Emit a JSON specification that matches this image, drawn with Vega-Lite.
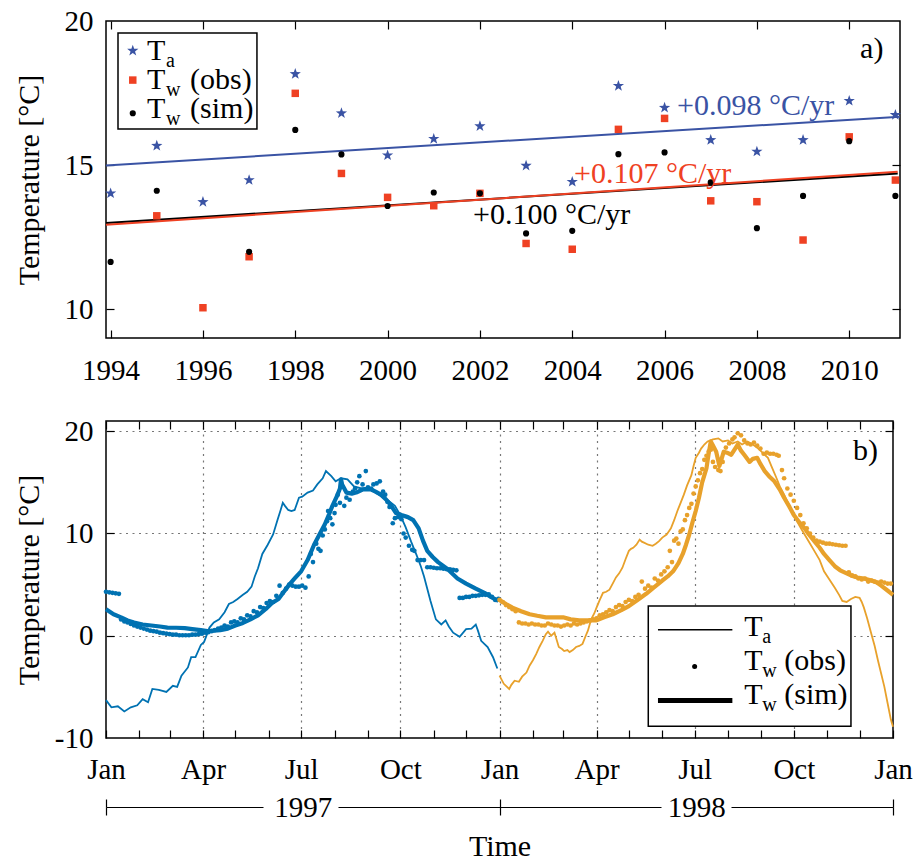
{
"$schema":"https://vega.github.io/schema/vega-lite/v6.json",
"background":"white",
"padding":{"left":13,"top":6,"right":5,"bottom":5},
"bounds":"flush",
"spacing":83,
"config":{
 "font":"Liberation Serif",
 "view":{"stroke":"black","strokeWidth":1.5},
 "axis":{"labelFont":"Liberation Serif","labelFontSize":29,"labelColor":"black","titleFont":"Liberation Serif","titleFontSize":30,"titleFontWeight":"normal","titleColor":"black","domain":false,"grid":false,"ticks":false,"tickColor":"black","tickWidth":1.2,"labelFlush":false,"labelOverlap":false},
 "text":{"font":"Liberation Serif","color":"black"}
},
"datasets":{
 "annual":[
  {"s":"Ta","yr":1994,"v":14.02},{"s":"Ta","yr":1995,"v":15.67},{"s":"Ta","yr":1996,"v":13.72},{"s":"Ta","yr":1997,"v":14.48},{"s":"Ta","yr":1998,"v":18.16},{"s":"Ta","yr":1999,"v":16.8},{"s":"Ta","yr":2000,"v":15.34},{"s":"Ta","yr":2001,"v":15.91},{"s":"Ta","yr":2002,"v":16.35},{"s":"Ta","yr":2003,"v":14.98},{"s":"Ta","yr":2004,"v":14.42},{"s":"Ta","yr":2005,"v":17.75},{"s":"Ta","yr":2006,"v":16.99},{"s":"Ta","yr":2007,"v":15.87},{"s":"Ta","yr":2008,"v":15.47},{"s":"Ta","yr":2009,"v":15.87},{"s":"Ta","yr":2010,"v":17.23},{"s":"Ta","yr":2011,"v":16.74},
  {"s":"obs","yr":1995,"v":13.24},{"s":"obs","yr":1996,"v":10.05},{"s":"obs","yr":1997,"v":11.82},{"s":"obs","yr":1998,"v":17.49},{"s":"obs","yr":1999,"v":14.71},{"s":"obs","yr":2000,"v":13.88},{"s":"obs","yr":2001,"v":13.59},{"s":"obs","yr":2002,"v":14.02},{"s":"obs","yr":2003,"v":12.28},{"s":"obs","yr":2004,"v":12.08},{"s":"obs","yr":2005,"v":16.24},{"s":"obs","yr":2006,"v":16.62},{"s":"obs","yr":2007,"v":13.76},{"s":"obs","yr":2008,"v":13.73},{"s":"obs","yr":2009,"v":12.4},{"s":"obs","yr":2010,"v":15.98},{"s":"obs","yr":2011,"v":14.48},
  {"s":"sim","yr":1994,"v":11.64},{"s":"sim","yr":1995,"v":14.11},{"s":"sim","yr":1997,"v":11.99},{"s":"sim","yr":1998,"v":16.22},{"s":"sim","yr":1999,"v":15.37},{"s":"sim","yr":2000,"v":13.58},{"s":"sim","yr":2001,"v":14.05},{"s":"sim","yr":2002,"v":14.02},{"s":"sim","yr":2003,"v":12.63},{"s":"sim","yr":2004,"v":12.72},{"s":"sim","yr":2005,"v":15.38},{"s":"sim","yr":2006,"v":15.44},{"s":"sim","yr":2007,"v":14.4},{"s":"sim","yr":2008,"v":12.81},{"s":"sim","yr":2009,"v":13.93},{"s":"sim","yr":2010,"v":15.83},{"s":"sim","yr":2011,"v":13.93}
 ],
 "trend":[
  {"s":"Ta","yr":1993.9,"v":14.99},{"s":"Ta","yr":2011.1,"v":16.68},
  {"s":"sim","yr":1993.9,"v":12.99},{"s":"sim","yr":2011.05,"v":14.71},
  {"s":"obs","yr":1993.9,"v":12.93},{"s":"obs","yr":2011.05,"v":14.77}
 ],
 "daily":[
  {"g":"1997","s":"Ta","d":0,"v":-6.3},{"g":"1997","s":"Ta","d":5,"v":-7.0},{"g":"1997","s":"Ta","d":11,"v":-6.9},{"g":"1997","s":"Ta","d":17,"v":-7.4},{"g":"1997","s":"Ta","d":23,"v":-7.0},{"g":"1997","s":"Ta","d":29,"v":-6.8},{"g":"1997","s":"Ta","d":34,"v":-6.2},{"g":"1997","s":"Ta","d":39,"v":-6.5},{"g":"1997","s":"Ta","d":43,"v":-5.2},{"g":"1997","s":"Ta","d":49,"v":-5.3},{"g":"1997","s":"Ta","d":56,"v":-5.5},{"g":"1997","s":"Ta","d":62,"v":-4.9},{"g":"1997","s":"Ta","d":66,"v":-5.0},{"g":"1997","s":"Ta","d":70,"v":-3.9},{"g":"1997","s":"Ta","d":76,"v":-3.1},{"g":"1997","s":"Ta","d":79,"v":-2.1},{"g":"1997","s":"Ta","d":83,"v":-2.1},{"g":"1997","s":"Ta","d":88,"v":-0.9},{"g":"1997","s":"Ta","d":91,"v":-0.6},{"g":"1997","s":"Ta","d":96,"v":0.8},{"g":"1997","s":"Ta","d":100,"v":1.3},{"g":"1997","s":"Ta","d":105,"v":1.6},{"g":"1997","s":"Ta","d":110,"v":2.3},{"g":"1997","s":"Ta","d":114,"v":3.1},{"g":"1997","s":"Ta","d":118,"v":3.3},{"g":"1997","s":"Ta","d":122,"v":3.6},{"g":"1997","s":"Ta","d":127,"v":4.0},{"g":"1997","s":"Ta","d":131,"v":4.3},{"g":"1997","s":"Ta","d":135,"v":4.8},{"g":"1997","s":"Ta","d":138,"v":5.8},{"g":"1997","s":"Ta","d":141,"v":6.6},{"g":"1997","s":"Ta","d":145,"v":8.0},{"g":"1997","s":"Ta","d":150,"v":8.9},{"g":"1997","s":"Ta","d":155,"v":9.9},{"g":"1997","s":"Ta","d":159,"v":11.3},{"g":"1997","s":"Ta","d":162,"v":12.3},{"g":"1997","s":"Ta","d":164,"v":13.0},{"g":"1997","s":"Ta","d":166,"v":12.7},{"g":"1997","s":"Ta","d":169,"v":12.3},{"g":"1997","s":"Ta","d":172,"v":12.2},{"g":"1997","s":"Ta","d":175,"v":12.3},{"g":"1997","s":"Ta","d":179,"v":13.5},{"g":"1997","s":"Ta","d":182,"v":13.6},{"g":"1997","s":"Ta","d":187,"v":14.0},{"g":"1997","s":"Ta","d":192,"v":14.2},{"g":"1997","s":"Ta","d":196,"v":14.8},{"g":"1997","s":"Ta","d":201,"v":15.4},{"g":"1997","s":"Ta","d":204,"v":16.1},{"g":"1997","s":"Ta","d":209,"v":15.6},{"g":"1997","s":"Ta","d":213,"v":15.1},{"g":"1997","s":"Ta","d":218,"v":15.4},{"g":"1997","s":"Ta","d":224,"v":15.3},{"g":"1997","s":"Ta","d":230,"v":14.6},{"g":"1997","s":"Ta","d":237,"v":14.4},{"g":"1997","s":"Ta","d":243,"v":14.5},{"g":"1997","s":"Ta","d":250,"v":14.0},{"g":"1997","s":"Ta","d":256,"v":13.6},{"g":"1997","s":"Ta","d":262,"v":13.2},{"g":"1997","s":"Ta","d":268,"v":12.7},{"g":"1997","s":"Ta","d":273,"v":11.8},{"g":"1997","s":"Ta","d":278,"v":10.6},{"g":"1997","s":"Ta","d":283,"v":9.2},{"g":"1997","s":"Ta","d":288,"v":7.9},{"g":"1997","s":"Ta","d":292,"v":6.8},{"g":"1997","s":"Ta","d":295,"v":5.8},{"g":"1997","s":"Ta","d":298,"v":4.6},{"g":"1997","s":"Ta","d":301,"v":3.4},{"g":"1997","s":"Ta","d":306,"v":1.6},{"g":"1997","s":"Ta","d":311,"v":1.1},{"g":"1997","s":"Ta","d":315,"v":1.5},{"g":"1997","s":"Ta","d":318,"v":0.9},{"g":"1997","s":"Ta","d":322,"v":0.3},{"g":"1997","s":"Ta","d":328,"v":-0.1},{"g":"1997","s":"Ta","d":334,"v":0.65},{"g":"1997","s":"Ta","d":339,"v":0.7},{"g":"1997","s":"Ta","d":343,"v":1.1},{"g":"1997","s":"Ta","d":345,"v":0.5},{"g":"1997","s":"Ta","d":348,"v":-0.5},{"g":"1997","s":"Ta","d":354,"v":-1.1},{"g":"1997","s":"Ta","d":359,"v":-2.1},{"g":"1997","s":"Ta","d":363,"v":-3.2},
  {"g":"1998","s":"Ta","d":365,"v":-3.9},{"g":"1998","s":"Ta","d":369,"v":-4.7},{"g":"1998","s":"Ta","d":374,"v":-5.2},{"g":"1998","s":"Ta","d":376,"v":-4.8},{"g":"1998","s":"Ta","d":379,"v":-4.4},{"g":"1998","s":"Ta","d":383,"v":-4.5},{"g":"1998","s":"Ta","d":386,"v":-4.0},{"g":"1998","s":"Ta","d":390,"v":-3.6},{"g":"1998","s":"Ta","d":393,"v":-2.9},{"g":"1998","s":"Ta","d":396,"v":-2.4},{"g":"1998","s":"Ta","d":399,"v":-1.8},{"g":"1998","s":"Ta","d":402,"v":-1.1},{"g":"1998","s":"Ta","d":405,"v":-0.5},{"g":"1998","s":"Ta","d":408,"v":0.15},{"g":"1998","s":"Ta","d":410,"v":0.4},{"g":"1998","s":"Ta","d":413,"v":0.0},{"g":"1998","s":"Ta","d":416,"v":0.3},{"g":"1998","s":"Ta","d":418,"v":-0.4},{"g":"1998","s":"Ta","d":420,"v":-1.1},{"g":"1998","s":"Ta","d":423,"v":-1.3},{"g":"1998","s":"Ta","d":425,"v":-1.5},{"g":"1998","s":"Ta","d":428,"v":-1.4},{"g":"1998","s":"Ta","d":430,"v":-1.6},{"g":"1998","s":"Ta","d":433,"v":-1.4},{"g":"1998","s":"Ta","d":436,"v":-1.1},{"g":"1998","s":"Ta","d":439,"v":-1.0},{"g":"1998","s":"Ta","d":442,"v":-0.8},{"g":"1998","s":"Ta","d":445,"v":0.0},{"g":"1998","s":"Ta","d":447,"v":0.5},{"g":"1998","s":"Ta","d":450,"v":1.6},{"g":"1998","s":"Ta","d":453,"v":2.2},{"g":"1998","s":"Ta","d":455,"v":2.75},{"g":"1998","s":"Ta","d":458,"v":3.5},{"g":"1998","s":"Ta","d":461,"v":4.2},{"g":"1998","s":"Ta","d":464,"v":4.3},{"g":"1998","s":"Ta","d":467,"v":4.5},{"g":"1998","s":"Ta","d":470,"v":5.1},{"g":"1998","s":"Ta","d":473,"v":5.7},{"g":"1998","s":"Ta","d":476,"v":6.1},{"g":"1998","s":"Ta","d":479,"v":6.65},{"g":"1998","s":"Ta","d":482,"v":7.5},{"g":"1998","s":"Ta","d":485,"v":8.3},{"g":"1998","s":"Ta","d":487,"v":8.5},{"g":"1998","s":"Ta","d":489,"v":8.6},{"g":"1998","s":"Ta","d":492,"v":8.9},{"g":"1998","s":"Ta","d":495,"v":9.4},{"g":"1998","s":"Ta","d":497,"v":9.2},{"g":"1998","s":"Ta","d":499,"v":9.1},{"g":"1998","s":"Ta","d":503,"v":8.9},{"g":"1998","s":"Ta","d":507,"v":8.8},{"g":"1998","s":"Ta","d":510,"v":9.0},{"g":"1998","s":"Ta","d":513,"v":9.25},{"g":"1998","s":"Ta","d":516,"v":9.6},{"g":"1998","s":"Ta","d":520,"v":9.9},{"g":"1998","s":"Ta","d":522,"v":10.2},{"g":"1998","s":"Ta","d":524,"v":10.5},{"g":"1998","s":"Ta","d":527,"v":11.3},{"g":"1998","s":"Ta","d":530,"v":12.2},{"g":"1998","s":"Ta","d":533,"v":13.0},{"g":"1998","s":"Ta","d":536,"v":13.8},{"g":"1998","s":"Ta","d":539,"v":14.7},{"g":"1998","s":"Ta","d":543,"v":15.7},{"g":"1998","s":"Ta","d":545,"v":16.6},{"g":"1998","s":"Ta","d":547,"v":17.4},{"g":"1998","s":"Ta","d":550,"v":17.9},{"g":"1998","s":"Ta","d":552,"v":18.3},{"g":"1998","s":"Ta","d":555,"v":18.7},{"g":"1998","s":"Ta","d":558,"v":19.0},{"g":"1998","s":"Ta","d":563,"v":19.2},{"g":"1998","s":"Ta","d":568,"v":19.3},{"g":"1998","s":"Ta","d":572,"v":19.0},{"g":"1998","s":"Ta","d":577,"v":19.1},{"g":"1998","s":"Ta","d":581,"v":18.8},{"g":"1998","s":"Ta","d":586,"v":19.0},{"g":"1998","s":"Ta","d":590,"v":18.7},{"g":"1998","s":"Ta","d":595,"v":19.0},{"g":"1998","s":"Ta","d":600,"v":18.7},{"g":"1998","s":"Ta","d":605,"v":18.3},{"g":"1998","s":"Ta","d":609,"v":17.9},{"g":"1998","s":"Ta","d":614,"v":17.4},{"g":"1998","s":"Ta","d":618,"v":16.4},{"g":"1998","s":"Ta","d":622,"v":15.4},{"g":"1998","s":"Ta","d":625,"v":14.6},{"g":"1998","s":"Ta","d":629,"v":13.8},{"g":"1998","s":"Ta","d":633,"v":12.9},{"g":"1998","s":"Ta","d":638,"v":11.8},{"g":"1998","s":"Ta","d":643,"v":10.8},{"g":"1998","s":"Ta","d":648,"v":9.9},{"g":"1998","s":"Ta","d":652,"v":9.2},{"g":"1998","s":"Ta","d":657,"v":8.3},{"g":"1998","s":"Ta","d":662,"v":7.4},{"g":"1998","s":"Ta","d":666,"v":6.3},{"g":"1998","s":"Ta","d":671,"v":5.5},{"g":"1998","s":"Ta","d":676,"v":4.7},{"g":"1998","s":"Ta","d":680,"v":4.0},{"g":"1998","s":"Ta","d":683,"v":3.4},{"g":"1998","s":"Ta","d":687,"v":3.3},{"g":"1998","s":"Ta","d":691,"v":3.6},{"g":"1998","s":"Ta","d":695,"v":3.8},{"g":"1998","s":"Ta","d":699,"v":3.7},{"g":"1998","s":"Ta","d":701,"v":3.3},{"g":"1998","s":"Ta","d":703,"v":2.75},{"g":"1998","s":"Ta","d":706,"v":1.7},{"g":"1998","s":"Ta","d":710,"v":0.15},{"g":"1998","s":"Ta","d":713,"v":-1.0},{"g":"1998","s":"Ta","d":716,"v":-2.4},{"g":"1998","s":"Ta","d":719,"v":-3.7},{"g":"1998","s":"Ta","d":722,"v":-5.0},{"g":"1998","s":"Ta","d":725,"v":-6.6},{"g":"1998","s":"Ta","d":728,"v":-8.2},{"g":"1998","s":"Ta","d":730,"v":-8.9},
  {"g":"1997","s":"sim","d":0,"v":2.6},{"g":"1997","s":"sim","d":7,"v":2.1},{"g":"1997","s":"sim","d":14,"v":1.8},{"g":"1997","s":"sim","d":20,"v":1.5},{"g":"1997","s":"sim","d":26,"v":1.3},{"g":"1997","s":"sim","d":34,"v":1.1},{"g":"1997","s":"sim","d":42,"v":1.0},{"g":"1997","s":"sim","d":50,"v":0.9},{"g":"1997","s":"sim","d":57,"v":0.8},{"g":"1997","s":"sim","d":65,"v":0.78},{"g":"1997","s":"sim","d":73,"v":0.75},{"g":"1997","s":"sim","d":80,"v":0.65},{"g":"1997","s":"sim","d":88,"v":0.55},{"g":"1997","s":"sim","d":94,"v":0.45},{"g":"1997","s":"sim","d":100,"v":0.5},{"g":"1997","s":"sim","d":106,"v":0.55},{"g":"1997","s":"sim","d":113,"v":0.7},{"g":"1997","s":"sim","d":120,"v":1.0},{"g":"1997","s":"sim","d":127,"v":1.25},{"g":"1997","s":"sim","d":134,"v":1.6},{"g":"1997","s":"sim","d":141,"v":2.0},{"g":"1997","s":"sim","d":148,"v":2.6},{"g":"1997","s":"sim","d":154,"v":3.2},{"g":"1997","s":"sim","d":160,"v":3.6},{"g":"1997","s":"sim","d":165,"v":4.3},{"g":"1997","s":"sim","d":170,"v":5.0},{"g":"1997","s":"sim","d":175,"v":5.6},{"g":"1997","s":"sim","d":181,"v":6.3},{"g":"1997","s":"sim","d":187,"v":7.4},{"g":"1997","s":"sim","d":193,"v":8.9},{"g":"1997","s":"sim","d":198,"v":9.9},{"g":"1997","s":"sim","d":203,"v":10.9},{"g":"1997","s":"sim","d":207,"v":11.9},{"g":"1997","s":"sim","d":210,"v":12.7},{"g":"1997","s":"sim","d":214,"v":13.6},{"g":"1997","s":"sim","d":217,"v":14.4},{"g":"1997","s":"sim","d":218,"v":15.3},{"g":"1997","s":"sim","d":219,"v":14.8},{"g":"1997","s":"sim","d":223,"v":14.0},{"g":"1997","s":"sim","d":228,"v":13.9},{"g":"1997","s":"sim","d":232,"v":14.0},{"g":"1997","s":"sim","d":238,"v":14.3},{"g":"1997","s":"sim","d":246,"v":14.3},{"g":"1997","s":"sim","d":250,"v":14.1},{"g":"1997","s":"sim","d":255,"v":13.8},{"g":"1997","s":"sim","d":260,"v":13.3},{"g":"1997","s":"sim","d":264,"v":12.8},{"g":"1997","s":"sim","d":269,"v":12.0},{"g":"1997","s":"sim","d":274,"v":11.8},{"g":"1997","s":"sim","d":280,"v":11.6},{"g":"1997","s":"sim","d":285,"v":11.3},{"g":"1997","s":"sim","d":290,"v":10.5},{"g":"1997","s":"sim","d":294,"v":9.3},{"g":"1997","s":"sim","d":298,"v":8.3},{"g":"1997","s":"sim","d":303,"v":7.7},{"g":"1997","s":"sim","d":308,"v":7.2},{"g":"1997","s":"sim","d":317,"v":6.5},{"g":"1997","s":"sim","d":326,"v":5.6},{"g":"1997","s":"sim","d":334,"v":5.1},{"g":"1997","s":"sim","d":343,"v":4.6},{"g":"1997","s":"sim","d":351,"v":4.2},{"g":"1997","s":"sim","d":357,"v":3.8},{"g":"1997","s":"sim","d":364,"v":3.4},
  {"g":"1998","s":"sim","d":365,"v":3.5},{"g":"1998","s":"sim","d":371,"v":3.1},{"g":"1998","s":"sim","d":377,"v":2.75},{"g":"1998","s":"sim","d":385,"v":2.4},{"g":"1998","s":"sim","d":393,"v":2.1},{"g":"1998","s":"sim","d":400,"v":1.95},{"g":"1998","s":"sim","d":408,"v":1.8},{"g":"1998","s":"sim","d":416,"v":1.8},{"g":"1998","s":"sim","d":424,"v":1.8},{"g":"1998","s":"sim","d":431,"v":1.6},{"g":"1998","s":"sim","d":439,"v":1.5},{"g":"1998","s":"sim","d":447,"v":1.5},{"g":"1998","s":"sim","d":455,"v":1.5},{"g":"1998","s":"sim","d":462,"v":1.8},{"g":"1998","s":"sim","d":470,"v":2.1},{"g":"1998","s":"sim","d":478,"v":2.5},{"g":"1998","s":"sim","d":485,"v":2.9},{"g":"1998","s":"sim","d":493,"v":3.5},{"g":"1998","s":"sim","d":501,"v":4.1},{"g":"1998","s":"sim","d":508,"v":4.7},{"g":"1998","s":"sim","d":516,"v":5.4},{"g":"1998","s":"sim","d":521,"v":5.8},{"g":"1998","s":"sim","d":526,"v":6.3},{"g":"1998","s":"sim","d":531,"v":7.1},{"g":"1998","s":"sim","d":535,"v":8.0},{"g":"1998","s":"sim","d":538,"v":8.9},{"g":"1998","s":"sim","d":541,"v":9.9},{"g":"1998","s":"sim","d":544,"v":11.1},{"g":"1998","s":"sim","d":547,"v":12.2},{"g":"1998","s":"sim","d":550,"v":13.5},{"g":"1998","s":"sim","d":553,"v":15.0},{"g":"1998","s":"sim","d":557,"v":16.4},{"g":"1998","s":"sim","d":559,"v":17.8},{"g":"1998","s":"sim","d":561,"v":19.0},{"g":"1998","s":"sim","d":563,"v":18.6},{"g":"1998","s":"sim","d":566,"v":18.0},{"g":"1998","s":"sim","d":569,"v":16.6},{"g":"1998","s":"sim","d":571,"v":17.3},{"g":"1998","s":"sim","d":573,"v":18.0},{"g":"1998","s":"sim","d":576,"v":17.9},{"g":"1998","s":"sim","d":580,"v":17.7},{"g":"1998","s":"sim","d":583,"v":18.2},{"g":"1998","s":"sim","d":586,"v":18.7},{"g":"1998","s":"sim","d":589,"v":18.1},{"g":"1998","s":"sim","d":592,"v":17.7},{"g":"1998","s":"sim","d":597,"v":17.0},{"g":"1998","s":"sim","d":600,"v":17.3},{"g":"1998","s":"sim","d":604,"v":17.4},{"g":"1998","s":"sim","d":607,"v":16.8},{"g":"1998","s":"sim","d":611,"v":16.1},{"g":"1998","s":"sim","d":615,"v":15.6},{"g":"1998","s":"sim","d":620,"v":15.1},{"g":"1998","s":"sim","d":625,"v":14.3},{"g":"1998","s":"sim","d":629,"v":13.5},{"g":"1998","s":"sim","d":634,"v":12.6},{"g":"1998","s":"sim","d":638,"v":11.8},{"g":"1998","s":"sim","d":643,"v":11.1},{"g":"1998","s":"sim","d":648,"v":10.5},{"g":"1998","s":"sim","d":652,"v":9.9},{"g":"1998","s":"sim","d":657,"v":9.25},{"g":"1998","s":"sim","d":662,"v":8.6},{"g":"1998","s":"sim","d":666,"v":8.0},{"g":"1998","s":"sim","d":671,"v":7.4},{"g":"1998","s":"sim","d":676,"v":6.8},{"g":"1998","s":"sim","d":681,"v":6.4},{"g":"1998","s":"sim","d":685,"v":6.2},{"g":"1998","s":"sim","d":691,"v":5.9},{"g":"1998","s":"sim","d":697,"v":5.7},{"g":"1998","s":"sim","d":703,"v":5.6},{"g":"1998","s":"sim","d":710,"v":5.4},{"g":"1998","s":"sim","d":715,"v":5.2},{"g":"1998","s":"sim","d":719,"v":4.9},{"g":"1998","s":"sim","d":724,"v":4.5},{"g":"1998","s":"sim","d":730,"v":4.0},
  {"g":"1997","s":"obs","d":0,"v":4.3},{"g":"1997","s":"obs","d":3,"v":4.25},{"g":"1997","s":"obs","d":6,"v":4.2},{"g":"1997","s":"obs","d":9,"v":4.15},{"g":"1997","s":"obs","d":12,"v":4.1},{"g":"1997","s":"obs","d":14,"v":1.6},{"g":"1997","s":"obs","d":17,"v":1.4},{"g":"1997","s":"obs","d":20,"v":1.3},{"g":"1997","s":"obs","d":23,"v":1.15},{"g":"1997","s":"obs","d":26,"v":1.0},{"g":"1997","s":"obs","d":29,"v":0.9},{"g":"1997","s":"obs","d":32,"v":0.8},{"g":"1997","s":"obs","d":35,"v":0.7},{"g":"1997","s":"obs","d":38,"v":0.6},{"g":"1997","s":"obs","d":41,"v":0.5},{"g":"1997","s":"obs","d":44,"v":0.45},{"g":"1997","s":"obs","d":47,"v":0.4},{"g":"1997","s":"obs","d":50,"v":0.3},{"g":"1997","s":"obs","d":53,"v":0.25},{"g":"1997","s":"obs","d":56,"v":0.2},{"g":"1997","s":"obs","d":59,"v":0.15},{"g":"1997","s":"obs","d":62,"v":0.1},{"g":"1997","s":"obs","d":65,"v":0.1},{"g":"1997","s":"obs","d":68,"v":0.05},{"g":"1997","s":"obs","d":71,"v":0.05},{"g":"1997","s":"obs","d":74,"v":0.05},{"g":"1997","s":"obs","d":77,"v":0.05},{"g":"1997","s":"obs","d":80,"v":0.1},{"g":"1997","s":"obs","d":83,"v":0.1},{"g":"1997","s":"obs","d":86,"v":0.15},{"g":"1997","s":"obs","d":89,"v":0.2},{"g":"1997","s":"obs","d":92,"v":0.3},{"g":"1997","s":"obs","d":95,"v":0.35},{"g":"1997","s":"obs","d":98,"v":0.45},{"g":"1997","s":"obs","d":101,"v":0.55},{"g":"1997","s":"obs","d":104,"v":0.7},{"g":"1997","s":"obs","d":107,"v":0.8},{"g":"1997","s":"obs","d":110,"v":1.0},{"g":"1997","s":"obs","d":113,"v":0.9},{"g":"1997","s":"obs","d":116,"v":1.3},{"g":"1997","s":"obs","d":119,"v":1.4},{"g":"1997","s":"obs","d":122,"v":1.3},{"g":"1997","s":"obs","d":125,"v":1.7},{"g":"1997","s":"obs","d":128,"v":1.6},{"g":"1997","s":"obs","d":131,"v":2.0},{"g":"1997","s":"obs","d":134,"v":1.9},{"g":"1997","s":"obs","d":137,"v":2.4},{"g":"1997","s":"obs","d":140,"v":2.3},{"g":"1997","s":"obs","d":143,"v":2.8},{"g":"1997","s":"obs","d":146,"v":2.7},{"g":"1997","s":"obs","d":149,"v":3.2},{"g":"1997","s":"obs","d":152,"v":3.4},{"g":"1997","s":"obs","d":155,"v":3.3},{"g":"1997","s":"obs","d":158,"v":3.9},{"g":"1997","s":"obs","d":161,"v":4.9},{"g":"1997","s":"obs","d":164,"v":4.2},{"g":"1997","s":"obs","d":167,"v":4.6},{"g":"1997","s":"obs","d":170,"v":5.0},{"g":"1997","s":"obs","d":173,"v":4.9},{"g":"1997","s":"obs","d":176,"v":4.8},{"g":"1997","s":"obs","d":179,"v":4.8},{"g":"1997","s":"obs","d":182,"v":4.9},{"g":"1997","s":"obs","d":185,"v":4.7},{"g":"1997","s":"obs","d":188,"v":5.8},{"g":"1997","s":"obs","d":190,"v":8.0},{"g":"1997","s":"obs","d":192,"v":7.2},{"g":"1997","s":"obs","d":195,"v":9.0},{"g":"1997","s":"obs","d":197,"v":8.5},{"g":"1997","s":"obs","d":199,"v":8.3},{"g":"1997","s":"obs","d":201,"v":9.8},{"g":"1997","s":"obs","d":203,"v":10.4},{"g":"1997","s":"obs","d":205,"v":11.2},{"g":"1997","s":"obs","d":206,"v":12.2},{"g":"1997","s":"obs","d":208,"v":11.5},{"g":"1997","s":"obs","d":210,"v":10.9},{"g":"1997","s":"obs","d":212,"v":12.0},{"g":"1997","s":"obs","d":213,"v":12.8},{"g":"1997","s":"obs","d":215,"v":13.8},{"g":"1997","s":"obs","d":217,"v":13.0},{"g":"1997","s":"obs","d":219,"v":14.6},{"g":"1997","s":"obs","d":221,"v":12.7},{"g":"1997","s":"obs","d":223,"v":13.5},{"g":"1997","s":"obs","d":226,"v":13.3},{"g":"1997","s":"obs","d":229,"v":14.1},{"g":"1997","s":"obs","d":231,"v":14.4},{"g":"1997","s":"obs","d":233,"v":15.0},{"g":"1997","s":"obs","d":235,"v":15.6},{"g":"1997","s":"obs","d":238,"v":14.8},{"g":"1997","s":"obs","d":241,"v":16.1},{"g":"1997","s":"obs","d":243,"v":14.5},{"g":"1997","s":"obs","d":246,"v":14.4},{"g":"1997","s":"obs","d":248,"v":14.8},{"g":"1997","s":"obs","d":251,"v":14.9},{"g":"1997","s":"obs","d":254,"v":15.1},{"g":"1997","s":"obs","d":257,"v":14.1},{"g":"1997","s":"obs","d":259,"v":13.8},{"g":"1997","s":"obs","d":261,"v":13.1},{"g":"1997","s":"obs","d":263,"v":12.6},{"g":"1997","s":"obs","d":266,"v":11.0},{"g":"1997","s":"obs","d":268,"v":11.5},{"g":"1997","s":"obs","d":271,"v":11.6},{"g":"1997","s":"obs","d":274,"v":11.4},{"g":"1997","s":"obs","d":276,"v":10.0},{"g":"1997","s":"obs","d":278,"v":9.6},{"g":"1997","s":"obs","d":281,"v":8.8},{"g":"1997","s":"obs","d":284,"v":8.4},{"g":"1997","s":"obs","d":286,"v":8.3},{"g":"1997","s":"obs","d":289,"v":7.4},{"g":"1997","s":"obs","d":292,"v":7.4},{"g":"1997","s":"obs","d":295,"v":7.4},{"g":"1997","s":"obs","d":298,"v":6.7},{"g":"1997","s":"obs","d":301,"v":6.7},{"g":"1997","s":"obs","d":304,"v":6.65},{"g":"1997","s":"obs","d":307,"v":6.6},{"g":"1997","s":"obs","d":310,"v":6.6},{"g":"1997","s":"obs","d":313,"v":6.55},{"g":"1997","s":"obs","d":316,"v":6.5},{"g":"1997","s":"obs","d":319,"v":6.5},{"g":"1997","s":"obs","d":322,"v":6.45},{"g":"1997","s":"obs","d":325,"v":6.4},{"g":"1997","s":"obs","d":328,"v":3.7},{"g":"1997","s":"obs","d":331,"v":3.7},{"g":"1997","s":"obs","d":334,"v":3.8},{"g":"1997","s":"obs","d":337,"v":3.8},{"g":"1997","s":"obs","d":340,"v":3.9},{"g":"1997","s":"obs","d":343,"v":3.9},{"g":"1997","s":"obs","d":346,"v":3.95},{"g":"1997","s":"obs","d":349,"v":4.0},{"g":"1997","s":"obs","d":352,"v":4.0},{"g":"1997","s":"obs","d":355,"v":4.05},{"g":"1997","s":"obs","d":358,"v":3.8},{"g":"1997","s":"obs","d":361,"v":3.5},{"g":"1997","s":"obs","d":364,"v":3.6},
  {"g":"1998","s":"obs","d":365,"v":3.5},{"g":"1998","s":"obs","d":368,"v":3.3},{"g":"1998","s":"obs","d":371,"v":3.0},{"g":"1998","s":"obs","d":374,"v":2.8},{"g":"1998","s":"obs","d":377,"v":2.6},{"g":"1998","s":"obs","d":380,"v":2.4},{"g":"1998","s":"obs","d":383,"v":1.3},{"g":"1998","s":"obs","d":386,"v":1.2},{"g":"1998","s":"obs","d":389,"v":1.2},{"g":"1998","s":"obs","d":392,"v":1.1},{"g":"1998","s":"obs","d":395,"v":1.2},{"g":"1998","s":"obs","d":398,"v":1.1},{"g":"1998","s":"obs","d":401,"v":1.1},{"g":"1998","s":"obs","d":404,"v":1.0},{"g":"1998","s":"obs","d":407,"v":1.0},{"g":"1998","s":"obs","d":410,"v":1.2},{"g":"1998","s":"obs","d":413,"v":1.1},{"g":"1998","s":"obs","d":416,"v":1.0},{"g":"1998","s":"obs","d":419,"v":1.0},{"g":"1998","s":"obs","d":422,"v":0.9},{"g":"1998","s":"obs","d":425,"v":1.0},{"g":"1998","s":"obs","d":428,"v":1.1},{"g":"1998","s":"obs","d":431,"v":1.0},{"g":"1998","s":"obs","d":434,"v":1.2},{"g":"1998","s":"obs","d":437,"v":1.1},{"g":"1998","s":"obs","d":440,"v":1.2},{"g":"1998","s":"obs","d":443,"v":1.3},{"g":"1998","s":"obs","d":446,"v":1.4},{"g":"1998","s":"obs","d":449,"v":1.5},{"g":"1998","s":"obs","d":452,"v":1.6},{"g":"1998","s":"obs","d":455,"v":1.7},{"g":"1998","s":"obs","d":458,"v":2.0},{"g":"1998","s":"obs","d":461,"v":2.1},{"g":"1998","s":"obs","d":464,"v":2.3},{"g":"1998","s":"obs","d":467,"v":2.5},{"g":"1998","s":"obs","d":470,"v":2.4},{"g":"1998","s":"obs","d":473,"v":2.8},{"g":"1998","s":"obs","d":476,"v":3.0},{"g":"1998","s":"obs","d":479,"v":2.9},{"g":"1998","s":"obs","d":482,"v":3.3},{"g":"1998","s":"obs","d":485,"v":3.5},{"g":"1998","s":"obs","d":488,"v":3.4},{"g":"1998","s":"obs","d":491,"v":3.8},{"g":"1998","s":"obs","d":494,"v":4.0},{"g":"1998","s":"obs","d":497,"v":5.3},{"g":"1998","s":"obs","d":500,"v":4.6},{"g":"1998","s":"obs","d":503,"v":4.9},{"g":"1998","s":"obs","d":506,"v":4.7},{"g":"1998","s":"obs","d":509,"v":5.6},{"g":"1998","s":"obs","d":512,"v":5.4},{"g":"1998","s":"obs","d":515,"v":6.0},{"g":"1998","s":"obs","d":518,"v":6.3},{"g":"1998","s":"obs","d":521,"v":6.7},{"g":"1998","s":"obs","d":523,"v":8.3},{"g":"1998","s":"obs","d":525,"v":7.2},{"g":"1998","s":"obs","d":527,"v":9.3},{"g":"1998","s":"obs","d":529,"v":9.5},{"g":"1998","s":"obs","d":531,"v":9.0},{"g":"1998","s":"obs","d":533,"v":10.2},{"g":"1998","s":"obs","d":535,"v":10.4},{"g":"1998","s":"obs","d":537,"v":11.3},{"g":"1998","s":"obs","d":539,"v":11.8},{"g":"1998","s":"obs","d":541,"v":12.5},{"g":"1998","s":"obs","d":543,"v":12.9},{"g":"1998","s":"obs","d":545,"v":13.9},{"g":"1998","s":"obs","d":547,"v":14.6},{"g":"1998","s":"obs","d":549,"v":15.2},{"g":"1998","s":"obs","d":551,"v":15.9},{"g":"1998","s":"obs","d":553,"v":16.3},{"g":"1998","s":"obs","d":555,"v":17.2},{"g":"1998","s":"obs","d":557,"v":17.6},{"g":"1998","s":"obs","d":559,"v":18.0},{"g":"1998","s":"obs","d":561,"v":18.2},{"g":"1998","s":"obs","d":563,"v":17.0},{"g":"1998","s":"obs","d":565,"v":16.5},{"g":"1998","s":"obs","d":568,"v":16.2},{"g":"1998","s":"obs","d":570,"v":16.1},{"g":"1998","s":"obs","d":572,"v":17.0},{"g":"1998","s":"obs","d":575,"v":18.4},{"g":"1998","s":"obs","d":578,"v":18.8},{"g":"1998","s":"obs","d":581,"v":19.2},{"g":"1998","s":"obs","d":583,"v":19.4},{"g":"1998","s":"obs","d":586,"v":19.8},{"g":"1998","s":"obs","d":589,"v":19.6},{"g":"1998","s":"obs","d":592,"v":19.1},{"g":"1998","s":"obs","d":595,"v":18.8},{"g":"1998","s":"obs","d":598,"v":18.7},{"g":"1998","s":"obs","d":601,"v":18.9},{"g":"1998","s":"obs","d":604,"v":18.6},{"g":"1998","s":"obs","d":607,"v":18.3},{"g":"1998","s":"obs","d":610,"v":17.8},{"g":"1998","s":"obs","d":613,"v":17.9},{"g":"1998","s":"obs","d":616,"v":17.8},{"g":"1998","s":"obs","d":619,"v":17.8},{"g":"1998","s":"obs","d":622,"v":17.7},{"g":"1998","s":"obs","d":624,"v":17.6},{"g":"1998","s":"obs","d":627,"v":16.2},{"g":"1998","s":"obs","d":629,"v":15.4},{"g":"1998","s":"obs","d":632,"v":14.4},{"g":"1998","s":"obs","d":635,"v":13.8},{"g":"1998","s":"obs","d":638,"v":13.2},{"g":"1998","s":"obs","d":641,"v":12.5},{"g":"1998","s":"obs","d":644,"v":11.8},{"g":"1998","s":"obs","d":647,"v":11.0},{"g":"1998","s":"obs","d":650,"v":10.5},{"g":"1998","s":"obs","d":653,"v":10.0},{"g":"1998","s":"obs","d":656,"v":9.6},{"g":"1998","s":"obs","d":659,"v":9.3},{"g":"1998","s":"obs","d":662,"v":9.2},{"g":"1998","s":"obs","d":665,"v":9.1},{"g":"1998","s":"obs","d":668,"v":9.0},{"g":"1998","s":"obs","d":671,"v":9.0},{"g":"1998","s":"obs","d":674,"v":8.95},{"g":"1998","s":"obs","d":677,"v":8.9},{"g":"1998","s":"obs","d":680,"v":8.85},{"g":"1998","s":"obs","d":683,"v":8.8},{"g":"1998","s":"obs","d":686,"v":8.8},{"g":"1998","s":"obs","d":689,"v":6.2},{"g":"1998","s":"obs","d":692,"v":5.9},{"g":"1998","s":"obs","d":695,"v":5.8},{"g":"1998","s":"obs","d":698,"v":5.6},{"g":"1998","s":"obs","d":701,"v":5.5},{"g":"1998","s":"obs","d":704,"v":5.6},{"g":"1998","s":"obs","d":707,"v":5.3},{"g":"1998","s":"obs","d":710,"v":5.4},{"g":"1998","s":"obs","d":713,"v":5.3},{"g":"1998","s":"obs","d":716,"v":5.2},{"g":"1998","s":"obs","d":719,"v":5.3},{"g":"1998","s":"obs","d":722,"v":5.2},{"g":"1998","s":"obs","d":725,"v":5.1},{"g":"1998","s":"obs","d":728,"v":5.1}
 ]
},
"vconcat":[
 {
  "width":794,"height":317,
  "data":{"name":"annual"},
  "resolve":{"axis":{"x":"independent","y":"independent"}},
  "layer":[
   {"data":{"name":"trend"},"transform":[{"filter":"datum.s=='Ta'"}],"mark":{"type":"line","strokeWidth":2,"color":"#3a53a4"},
    "encoding":{"x":{"field":"yr","type":"quantitative","scale":{"domain":[1993.9,2011.1],"nice":false,"zero":false},"axis":null},"y":{"field":"v","type":"quantitative","scale":{"domain":[9,20],"nice":false,"zero":false},"axis":null}}},
   {"data":{"name":"trend"},"transform":[{"filter":"datum.s=='sim'"}],"mark":{"type":"line","strokeWidth":2,"color":"black"},
    "encoding":{"x":{"field":"yr","type":"quantitative","scale":{"domain":[1993.9,2011.1],"nice":false,"zero":false},"axis":null},"y":{"field":"v","type":"quantitative","scale":{"domain":[9,20],"nice":false,"zero":false},"axis":null}}},
   {"data":{"name":"trend"},"transform":[{"filter":"datum.s=='obs'"}],"mark":{"type":"line","strokeWidth":2,"color":"#ef4123"},
    "encoding":{"x":{"field":"yr","type":"quantitative","scale":{"domain":[1993.9,2011.1],"nice":false,"zero":false},"axis":null},"y":{"field":"v","type":"quantitative","scale":{"domain":[9,20],"nice":false,"zero":false},"axis":null}}},
   {"transform":[{"filter":"datum.s=='Ta'"}],"mark":{"type":"point","filled":true,"opacity":1,"color":"#3a53a4","size":140,"shape":"M0,-1L0.235,-0.324L0.951,-0.309L0.38,0.124L0.588,0.809L0,0.4L-0.588,0.809L-0.38,0.124L-0.951,-0.309L-0.235,-0.324Z"},
    "encoding":{
     "x":{"field":"yr","type":"quantitative","scale":{"domain":[1993.9,2011.1],"nice":false,"zero":false},"axis":{"orient":"bottom","values":[1994,1996,1998,2000,2002,2004,2006,2008,2010],"format":"d","labelPadding":18,"ticks":false,"domain":false,"title":null}},
     "y":{"field":"v","type":"quantitative","scale":{"domain":[9,20],"nice":false,"zero":false},"axis":{"orient":"left","values":[10,15,20],"labelPadding":13,"ticks":false,"domain":false,"title":"Temperature [°C]","titleX":-77,"titleY":158.5,"titleAngle":-90,"titleBaseline":"middle","titleAlign":"center"}}}},
   {"transform":[{"filter":"datum.s=='obs'"}],"mark":{"type":"point","filled":true,"opacity":1,"color":"#ef4123","size":56,"shape":"square"},
    "encoding":{
     "x":{"field":"yr","type":"quantitative","scale":{"domain":[1993.9,2011.1],"nice":false,"zero":false},"axis":{"orient":"bottom","values":[1994,1996,1998,2000,2002,2004,2006,2008,2010],"offset":-8,"tickSize":8,"ticks":true,"labels":false,"domain":false,"title":null}},
     "y":{"field":"v","type":"quantitative","scale":{"domain":[9,20],"nice":false,"zero":false},"axis":{"orient":"left","values":[10,15],"offset":-8,"tickSize":8,"ticks":true,"labels":false,"domain":false,"title":null}}}},
   {"transform":[{"filter":"datum.s=='sim'"}],"mark":{"type":"point","filled":true,"opacity":1,"color":"black","size":38,"shape":"circle"},
    "encoding":{
     "x":{"field":"yr","type":"quantitative","scale":{"domain":[1993.9,2011.1],"nice":false,"zero":false},"axis":{"orient":"top","values":[1994,1996,1998,2000,2002,2004,2006,2008,2010],"offset":-8,"tickSize":8,"ticks":true,"labels":false,"domain":false,"title":null}},
     "y":{"field":"v","type":"quantitative","scale":{"domain":[9,20],"nice":false,"zero":false},"axis":{"orient":"right","values":[10,15],"offset":-8,"tickSize":8,"ticks":true,"labels":false,"domain":false,"title":null}}}},
   {"data":{"values":[{}]},"mark":{"type":"text","fontSize":30,"align":"left","baseline":"alphabetic","color":"#3a53a4"},
    "encoding":{"x":{"datum":2006.27,"type":"quantitative","scale":{"domain":[1993.9,2011.1],"nice":false,"zero":false},"axis":null},"y":{"datum":16.74,"type":"quantitative","scale":{"domain":[9,20],"nice":false,"zero":false},"axis":null},"text":{"value":"+0.098 °C/yr"}}},
   {"data":{"values":[{}]},"mark":{"type":"text","fontSize":30,"align":"left","baseline":"alphabetic","color":"#ef4123"},
    "encoding":{"x":{"datum":2004.04,"type":"quantitative","scale":{"domain":[1993.9,2011.1],"nice":false,"zero":false},"axis":null},"y":{"datum":14.37,"type":"quantitative","scale":{"domain":[9,20],"nice":false,"zero":false},"axis":null},"text":{"value":"+0.107 °C/yr"}}},
   {"data":{"values":[{}]},"mark":{"type":"text","fontSize":30,"align":"left","baseline":"alphabetic","color":"black"},
    "encoding":{"x":{"datum":2001.85,"type":"quantitative","scale":{"domain":[1993.9,2011.1],"nice":false,"zero":false},"axis":null},"y":{"datum":12.95,"type":"quantitative","scale":{"domain":[9,20],"nice":false,"zero":false},"axis":null},"text":{"value":"+0.100 °C/yr"}}},
   {"data":{"values":[{}]},"mark":{"type":"text","fontSize":30,"align":"right","baseline":"alphabetic","color":"black"},
    "encoding":{"x":{"datum":2010.74,"type":"quantitative","scale":{"domain":[1993.9,2011.1],"nice":false,"zero":false},"axis":null},"y":{"datum":18.72,"type":"quantitative","scale":{"domain":[9,20],"nice":false,"zero":false},"axis":null},"text":{"value":"a)"}}},
   {"data":{"values":[{}]},"mark":{"type":"rect","fill":"white","stroke":"black","strokeWidth":1.5},
    "encoding":{"x":{"datum":1994.16,"type":"quantitative","scale":{"domain":[1993.9,2011.1],"nice":false,"zero":false},"axis":null},"x2":{"datum":1997.17},"y":{"datum":19.58,"type":"quantitative","scale":{"domain":[9,20],"nice":false,"zero":false},"axis":null},"y2":{"datum":16.25}}},
   {"data":{"values":[{}]},"mark":{"type":"point","filled":true,"opacity":1,"color":"#3a53a4","size":140,"shape":"M0,-1L0.235,-0.324L0.951,-0.309L0.38,0.124L0.588,0.809L0,0.4L-0.588,0.809L-0.38,0.124L-0.951,-0.309L-0.235,-0.324Z"},
    "encoding":{"x":{"datum":1994.48,"type":"quantitative","scale":{"domain":[1993.9,2011.1],"nice":false,"zero":false},"axis":null},"y":{"datum":18.97,"type":"quantitative","scale":{"domain":[9,20],"nice":false,"zero":false},"axis":null}}},
   {"data":{"values":[{}]},"mark":{"type":"point","filled":true,"opacity":1,"color":"#ef4123","size":56,"shape":"square"},
    "encoding":{"x":{"datum":1994.48,"type":"quantitative","scale":{"domain":[1993.9,2011.1],"nice":false,"zero":false},"axis":null},"y":{"datum":17.95,"type":"quantitative","scale":{"domain":[9,20],"nice":false,"zero":false},"axis":null}}},
   {"data":{"values":[{}]},"mark":{"type":"point","filled":true,"opacity":1,"color":"black","size":38,"shape":"circle"},
    "encoding":{"x":{"datum":1994.48,"type":"quantitative","scale":{"domain":[1993.9,2011.1],"nice":false,"zero":false},"axis":null},"y":{"datum":16.8,"type":"quantitative","scale":{"domain":[9,20],"nice":false,"zero":false},"axis":null}}},
   {"data":{"values":[{}]},"mark":{"type":"text","fontSize":30,"align":"left","baseline":"alphabetic","lineHeight":29},
    "encoding":{"x":{"datum":1994.79,"type":"quantitative","scale":{"domain":[1993.9,2011.1],"nice":false,"zero":false},"axis":null},"y":{"datum":18.65,"type":"quantitative","scale":{"domain":[9,20],"nice":false,"zero":false},"axis":null},"text":{"value":["T","T","T"]}}},
   {"data":{"values":[{}]},"mark":{"type":"text","fontSize":20,"align":"left","baseline":"alphabetic","lineHeight":29,"dx":19,"dy":7},
    "encoding":{"x":{"datum":1994.79,"type":"quantitative","scale":{"domain":[1993.9,2011.1],"nice":false,"zero":false},"axis":null},"y":{"datum":18.65,"type":"quantitative","scale":{"domain":[9,20],"nice":false,"zero":false},"axis":null},"text":{"value":["a","w","w"]}}},
   {"data":{"values":[{}]},"mark":{"type":"text","fontSize":30,"align":"left","baseline":"alphabetic","lineHeight":29,"dx":43},
    "encoding":{"x":{"datum":1994.79,"type":"quantitative","scale":{"domain":[1993.9,2011.1],"nice":false,"zero":false},"axis":null},"y":{"datum":18.65,"type":"quantitative","scale":{"domain":[9,20],"nice":false,"zero":false},"axis":null},"text":{"value":[" ","(obs)","(sim)"]}}}
  ]
 },
 {
  "width":787,"height":317,
  "data":{"name":"daily"},
  "resolve":{"axis":{"x":"independent","y":"independent"}},
  "layer":[
   {"transform":[{"filter":"datum.s=='Ta'"}],"mark":{"type":"line","strokeWidth":1.8},
    "encoding":{
     "x":{"field":"d","type":"quantitative","scale":{"domain":[0,730],"nice":false,"zero":false},"axis":{"orient":"bottom","values":[0,90,181,273,365,455,546,638,730],"labelExpr":"['Jan','Apr','Jul','Oct'][indexof([0,90,181,273,365,455,546,638,730], datum.value) % 4]","labelPadding":17,"ticks":false,"domain":false,"grid":false,"title":null}},
     "y":{"field":"v","type":"quantitative","scale":{"domain":[-10,21],"nice":false,"zero":false},"axis":{"orient":"left","values":[-10,0,10,20],"labelExpr":"datum.value < 0 ? '-10' : '' + datum.value","labelPadding":13,"ticks":false,"domain":false,"grid":false,"title":"Temperature [°C]","titleX":-77,"titleY":158.5,"titleAngle":-90,"titleBaseline":"middle","titleAlign":"center"}},
     "color":{"field":"g","type":"nominal","scale":{"domain":["1997","1998"],"range":["#0072b2","#e8a12b"]},"legend":null}}},
   {"transform":[{"filter":"datum.s=='sim'"}],"mark":{"type":"line","strokeWidth":4.2,"strokeJoin":"round"},
    "encoding":{
     "x":{"field":"d","type":"quantitative","scale":{"domain":[0,730],"nice":false,"zero":false},"axis":{"orient":"bottom","values":[90,181,273,365,455,546,638],"grid":true,"gridDash":[2,4.5],"gridColor":"#777","gridWidth":1.2,"labels":false,"ticks":false,"domain":false,"title":null}},
     "y":{"field":"v","type":"quantitative","scale":{"domain":[-10,21],"nice":false,"zero":false},"axis":{"orient":"left","values":[0,10,20],"grid":true,"gridDash":[2,4.5],"gridColor":"#777","gridWidth":1.2,"labels":false,"ticks":false,"domain":false,"title":null}},
     "color":{"field":"g","type":"nominal","scale":{"domain":["1997","1998"],"range":["#0072b2","#e8a12b"]},"legend":null}}},
   {"transform":[{"filter":"datum.s=='obs'"}],"mark":{"type":"point","filled":true,"opacity":1,"size":22,"shape":"circle"},
    "encoding":{
     "x":{"field":"d","type":"quantitative","scale":{"domain":[0,730],"nice":false,"zero":false},"axis":{"orient":"bottom","values":[0,31,59,90,120,151,181,212,243,273,304,334,365,396,424,455,485,516,546,577,608,638,669,699,730],"offset":-8,"tickSize":8,"ticks":true,"labels":false,"domain":false,"title":null}},
     "y":{"field":"v","type":"quantitative","scale":{"domain":[-10,21],"nice":false,"zero":false},"axis":{"orient":"left","values":[0,10,20],"offset":-8,"tickSize":8,"ticks":true,"labels":false,"domain":false,"title":null}},
     "color":{"field":"g","type":"nominal","scale":{"domain":["1997","1998"],"range":["#0072b2","#e8a12b"]},"legend":null}}},
   {"data":{"values":[{}]},"mark":{"type":"rect","fill":"white","stroke":"black","strokeWidth":1.5},
    "encoding":{
     "x":{"datum":503,"type":"quantitative","scale":{"domain":[0,730],"nice":false,"zero":false},"axis":{"orient":"top","values":[0,31,59,90,120,151,181,212,243,273,304,334,365,396,424,455,485,516,546,577,608,638,669,699,730],"offset":-8,"tickSize":8,"ticks":true,"labels":false,"domain":false,"title":null}},
     "x2":{"datum":691},
     "y":{"datum":2.9,"type":"quantitative","scale":{"domain":[-10,21],"nice":false,"zero":false},"axis":{"orient":"right","values":[0,10,20],"offset":-8,"tickSize":8,"ticks":true,"labels":false,"domain":false,"title":null}},
     "y2":{"datum":-8.86}}},
   {"data":{"values":[{}]},"mark":{"type":"rule","color":"black","strokeWidth":1.5},
    "encoding":{
     "x":{"datum":512,"type":"quantitative","scale":{"domain":[0,730],"nice":false,"zero":false},"axis":{"orient":"bottom","values":[0,365,730],"offset":69,"tickSize":8,"ticks":true,"labels":false,"domain":true,"domainColor":"black","domainWidth":1.2,"domainDash":[157,75,323,70,165,10],"title":null}},
     "x2":{"datum":581},
     "y":{"datum":0.58,"type":"quantitative","scale":{"domain":[-10,21],"nice":false,"zero":false},"axis":null}}},
   {"data":{"values":[{}]},"mark":{"type":"point","filled":true,"opacity":1,"color":"black","size":25,"shape":"circle"},
    "encoding":{
     "x":{"datum":546,"type":"quantitative","scale":{"domain":[0,730],"nice":false,"zero":false},"axis":{"orient":"bottom","values":[0,365,730],"offset":61,"tickSize":8,"ticks":true,"labels":false,"domain":false,"title":null}},
     "y":{"datum":-3.0,"type":"quantitative","scale":{"domain":[-10,21],"nice":false,"zero":false},"axis":null}}},
   {"data":{"values":[{}]},"mark":{"type":"rule","color":"black","strokeWidth":5},
    "encoding":{
     "x":{"datum":512,"type":"quantitative","scale":{"domain":[0,730],"nice":false,"zero":false},"axis":{"orient":"bottom","values":[182.5,547.5],"labelExpr":"datum.value < 365 ? '1997' : '1998'","labelPadding":69,"labelBaseline":"middle","ticks":false,"domain":false,"title":"Time","titleX":393.5,"titleY":108,"titleBaseline":"middle","titleAlign":"center"}},
     "x2":{"datum":581},
     "y":{"datum":-6.33,"type":"quantitative","scale":{"domain":[-10,21],"nice":false,"zero":false},"axis":null}}},
   {"data":{"values":[{}]},"mark":{"type":"text","fontSize":30,"align":"left","baseline":"alphabetic","lineHeight":34},
    "encoding":{"x":{"datum":592,"type":"quantitative","scale":{"domain":[0,730],"nice":false,"zero":false},"axis":null},"y":{"datum":0.0,"type":"quantitative","scale":{"domain":[-10,21],"nice":false,"zero":false},"axis":null},"text":{"value":["T","T","T"]}}},
   {"data":{"values":[{}]},"mark":{"type":"text","fontSize":20,"align":"left","baseline":"alphabetic","lineHeight":34,"dx":18,"dy":7},
    "encoding":{"x":{"datum":592,"type":"quantitative","scale":{"domain":[0,730],"nice":false,"zero":false},"axis":null},"y":{"datum":0.0,"type":"quantitative","scale":{"domain":[-10,21],"nice":false,"zero":false},"axis":null},"text":{"value":["a","w","w"]}}},
   {"data":{"values":[{}]},"mark":{"type":"text","fontSize":30,"align":"left","baseline":"alphabetic","lineHeight":34,"dx":40},
    "encoding":{"x":{"datum":592,"type":"quantitative","scale":{"domain":[0,730],"nice":false,"zero":false},"axis":null},"y":{"datum":0.0,"type":"quantitative","scale":{"domain":[-10,21],"nice":false,"zero":false},"axis":null},"text":{"value":[" ","(obs)","(sim)"]}}},
   {"data":{"values":[{}]},"mark":{"type":"text","fontSize":30,"align":"right","baseline":"alphabetic"},
    "encoding":{"x":{"datum":716,"type":"quantitative","scale":{"domain":[0,730],"nice":false,"zero":false},"axis":null},"y":{"datum":17.2,"type":"quantitative","scale":{"domain":[-10,21],"nice":false,"zero":false},"axis":null},"text":{"value":"b)"}}}
  ]
 }
]
}
